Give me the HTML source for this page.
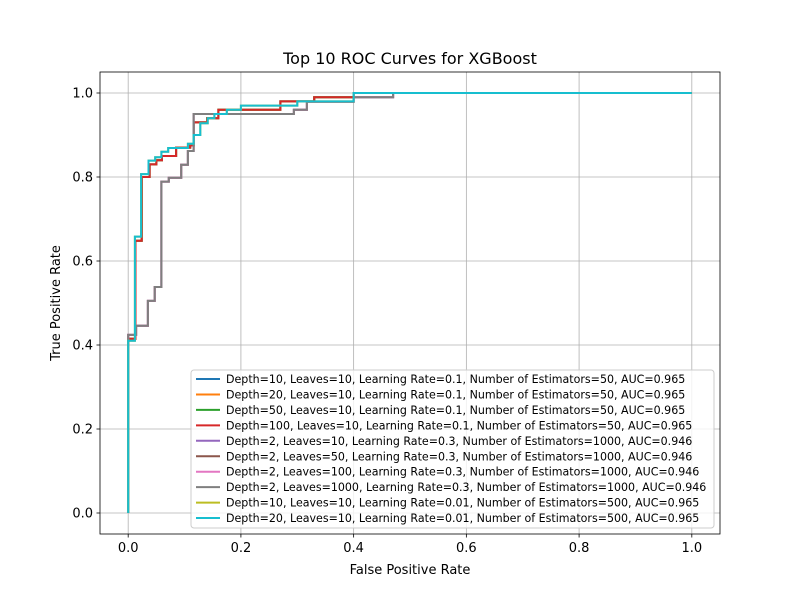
<!DOCTYPE html>
<html><head><meta charset="utf-8"><style>
body{margin:0;background:#fff;font-family:"Liberation Sans","DejaVu Sans",sans-serif;}
svg text{font-family:"DejaVu Sans","Liberation Sans",sans-serif;}
</style></head><body>
<svg id="chart" width="800" height="600" xmlns="http://www.w3.org/2000/svg"></svg>
<script>
const seriesLabels = [
 "Depth=10, Leaves=10, Learning Rate=0.1, Number of Estimators=50, AUC=0.965",
 "Depth=20, Leaves=10, Learning Rate=0.1, Number of Estimators=50, AUC=0.965",
 "Depth=50, Leaves=10, Learning Rate=0.1, Number of Estimators=50, AUC=0.965",
 "Depth=100, Leaves=10, Learning Rate=0.1, Number of Estimators=50, AUC=0.965",
 "Depth=2, Leaves=10, Learning Rate=0.3, Number of Estimators=1000, AUC=0.946",
 "Depth=2, Leaves=50, Learning Rate=0.3, Number of Estimators=1000, AUC=0.946",
 "Depth=2, Leaves=100, Learning Rate=0.3, Number of Estimators=1000, AUC=0.946",
 "Depth=2, Leaves=1000, Learning Rate=0.3, Number of Estimators=1000, AUC=0.946",
 "Depth=10, Leaves=10, Learning Rate=0.01, Number of Estimators=500, AUC=0.965",
 "Depth=20, Leaves=10, Learning Rate=0.01, Number of Estimators=500, AUC=0.965"];
const colors = ["#1f77b4","#ff7f0e","#2ca02c","#d62728","#9467bd","#8c564b","#e377c2","#7f7f7f","#bcbd22","#17becf"];
const fprA = [0,0,0.013,0.013,0.024,0.024,0.038,0.038,0.05,0.05,0.06,0.06,0.085,0.085,0.11,0.11,0.116,0.116,0.14,0.14,0.16,0.16,0.27,0.27,0.33,0.33,0.4,0.4,1];
const tprA = [0,0.415,0.415,0.648,0.648,0.8,0.8,0.83,0.83,0.84,0.84,0.85,0.85,0.87,0.87,0.875,0.875,0.93,0.93,0.94,0.94,0.96,0.96,0.98,0.98,0.99,0.99,1,1];
const fprB = [0,0,0.014,0.014,0.035,0.035,0.047,0.047,0.059,0.059,0.072,0.072,0.094,0.094,0.106,0.106,0.116,0.116,0.294,0.294,0.317,0.317,0.40,0.40,0.47,0.47,1];
const tprB = [0,0.424,0.424,0.446,0.446,0.505,0.505,0.538,0.538,0.789,0.789,0.798,0.798,0.829,0.829,0.862,0.862,0.95,0.95,0.96,0.96,0.979,0.979,0.99,0.99,1,1];
const fprC = [0,0,0.012,0.012,0.023,0.023,0.036,0.036,0.048,0.048,0.059,0.059,0.071,0.071,0.106,0.106,0.116,0.116,0.128,0.128,0.141,0.141,0.153,0.153,0.175,0.175,0.2,0.2,0.3,0.3,0.4,0.4,1];
const tprC = [0,0.41,0.41,0.658,0.658,0.807,0.807,0.839,0.839,0.847,0.847,0.86,0.86,0.869,0.869,0.879,0.879,0.9,0.9,0.928,0.928,0.94,0.94,0.95,0.95,0.96,0.96,0.97,0.97,0.98,0.98,1,1];
const seriesFpr = [fprA,fprA,fprA,fprA,fprB,fprB,fprB,fprB,fprC,fprC];
const seriesTpr = [tprA,tprA,tprA,tprA,tprB,tprB,tprB,tprB,tprC,tprC];
const ticks = [0,0.2,0.4,0.6,0.8,1.0];
const tickLabels = ["0.0","0.2","0.4","0.6","0.8","1.0"];

const NS="http://www.w3.org/2000/svg", svg=document.getElementById('chart');
const L=100,R=720,T=72,B=534;
const xs=v=>L+(v+0.05)/1.1*(R-L), ys=v=>B-(v+0.05)/1.1*(B-T);
function mk(tag,attrs,parent){const e=document.createElementNS(NS,tag);for(const k in attrs)e.setAttribute(k,attrs[k]);(parent||svg).appendChild(e);return e;}
ticks.forEach((t,i)=>{
 const gx=mk('line',{x1:xs(t),x2:xs(t),y1:T,y2:B,stroke:'#b0b0b0','stroke-width':0.8});
 
 
 const gy=mk('line',{x1:L,x2:R,y1:ys(t),y2:ys(t),stroke:'#b0b0b0','stroke-width':0.8});
 
 
 mk('line',{x1:xs(t),x2:xs(t),y1:B,y2:B+3.5,stroke:'#000','stroke-width':0.8});
 mk('line',{x1:L,x2:L-3.5,y1:ys(t),y2:ys(t),stroke:'#000','stroke-width':0.8});
 const tx=mk('text',{x:xs(t),y:B+18,'text-anchor':'middle','font-size':13});tx.textContent=tickLabels[i];
 
 
 const ty=mk('text',{x:L-7,y:ys(t)+4.5,'text-anchor':'end','font-size':13});ty.textContent=tickLabels[i];
 
 
});
seriesFpr.forEach((f,i)=>{
 const pts=f.map((v,j)=>xs(v).toFixed(1)+','+ys(seriesTpr[i][j]).toFixed(1)).join(' ');
 const p=mk('polyline',{points:pts,fill:'none',stroke:colors[i],'stroke-width':2});
 
 
});
const fr=mk('rect',{x:L,y:T,width:R-L,height:B-T,fill:'none',stroke:'#000','stroke-width':0.8});


const ti=mk('text',{x:410,y:64,'text-anchor':'middle','font-size':16});ti.textContent='Top 10 ROC Curves for XGBoost';


const xl=mk('text',{x:410,y:574,'text-anchor':'middle','font-size':13});xl.textContent='False Positive Rate';


const yl=mk('text',{x:0,y:0,'text-anchor':'middle','font-size':13,transform:'translate(60,303) rotate(-90)'});yl.textContent='True Positive Rate';


const lg=mk('g',{});


mk('rect',{x:191,y:370,width:523,height:158,rx:3,fill:'#fff','fill-opacity':0.8,stroke:'#ccc','stroke-width':1},lg);
seriesLabels.forEach((s,i)=>{
 const y=379+i*15.45;
 const ln=mk('line',{x1:196,x2:220,y1:y,y2:y,stroke:colors[i],'stroke-width':2},lg);
 
 
 const t=mk('text',{x:226,y:y+4,'font-size':11.05},lg);t.textContent=s;
 
 
});
</script>
</body></html>
